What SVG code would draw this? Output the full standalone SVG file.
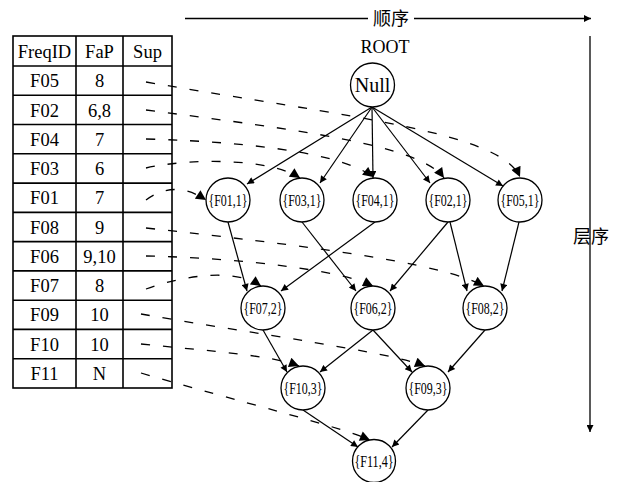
<svg xmlns="http://www.w3.org/2000/svg" width="621" height="482" viewBox="0 0 621 482">
<defs>
<style>
.t{font-family:"Liberation Serif","Noto Sans CJK SC",serif;fill:#000;text-anchor:middle}
.tb{font-size:18.5px}
.nd circle{fill:#fff;stroke:#000;stroke-width:1.3}
.nl{font-size:17.5px}
.e{fill:none;stroke:#000;stroke-width:1.2;marker-end:url(#a)}
.d{fill:none;stroke:#000;stroke-width:1.3;stroke-dasharray:9 13;marker-end:url(#da)}
.grid{fill:none;stroke:#000;stroke-width:1.6}
.ax{fill:none;stroke:#000;stroke-width:1.3}
</style>
<marker id="a" viewBox="0 0 10 10" refX="10" refY="5" markerWidth="9" markerHeight="7" markerUnits="userSpaceOnUse" orient="auto">
<path d="M0,0 L10,5 L0,10 z" fill="#000" stroke="none"/>
</marker>
<marker id="da" viewBox="0 0 10 10" refX="10" refY="5" markerWidth="11" markerHeight="10" markerUnits="userSpaceOnUse" orient="auto">
<path d="M0,0 L10,5 L0,10 z" fill="#000" stroke="none"/>
</marker>
<marker id="ax" viewBox="0 0 10 10" refX="10" refY="5" markerWidth="10" markerHeight="7" markerUnits="userSpaceOnUse" orient="auto">
<path d="M0,0 L10,5 L0,10 z" fill="#000" stroke="none"/>
</marker>
</defs>
<rect width="621" height="482" fill="#fff"/>

<g id="axes">
<line class="ax" x1="185" y1="18.5" x2="368" y2="18.5"/>
<line class="ax" x1="414" y1="18.5" x2="591" y2="18.5" marker-end="url(#ax)"/>
<text class="t" x="391" y="25" font-size="18">顺序</text>
<line class="ax" x1="590" y1="36" x2="590" y2="432" marker-end="url(#ax)"/>
<text class="t" x="591" y="243" font-size="18">层序</text>
<text class="t" x="385" y="53" font-size="18">ROOT</text>
</g>

<g id="table">
<rect class="grid" x="13" y="36" width="159" height="352"/>
<line class="grid" x1="76" y1="36" x2="76" y2="388"/>
<line class="grid" x1="123" y1="36" x2="123" y2="388"/>
<line class="grid" x1="13" y1="66" x2="172" y2="66"/>
<line class="grid" x1="13" y1="95.3" x2="172" y2="95.3"/>
<line class="grid" x1="13" y1="124.5" x2="172" y2="124.5"/>
<line class="grid" x1="13" y1="153.8" x2="172" y2="153.8"/>
<line class="grid" x1="13" y1="183.1" x2="172" y2="183.1"/>
<line class="grid" x1="13" y1="212.4" x2="172" y2="212.4"/>
<line class="grid" x1="13" y1="241.6" x2="172" y2="241.6"/>
<line class="grid" x1="13" y1="270.9" x2="172" y2="270.9"/>
<line class="grid" x1="13" y1="300.2" x2="172" y2="300.2"/>
<line class="grid" x1="13" y1="329.4" x2="172" y2="329.4"/>
<line class="grid" x1="13" y1="358.7" x2="172" y2="358.7"/>
<g class="t tb">
<text x="44.5" y="57.5">FreqID</text><text x="99.5" y="57.5">FaP</text><text x="147.5" y="57.5">Sup</text>
<text x="44.5" y="87">F05</text><text x="99.5" y="87">8</text>
<text x="44.5" y="116.5">F02</text><text x="99.5" y="116.5">6,8</text>
<text x="44.5" y="145.5">F04</text><text x="99.5" y="145.5">7</text>
<text x="44.5" y="175">F03</text><text x="99.5" y="175">6</text>
<text x="44.5" y="204">F01</text><text x="99.5" y="204">7</text>
<text x="44.5" y="233.5">F08</text><text x="99.5" y="233.5">9</text>
<text x="44.5" y="262.5">F06</text><text x="99.5" y="262.5">9,10</text>
<text x="44.5" y="292">F07</text><text x="99.5" y="292">8</text>
<text x="44.5" y="321">F09</text><text x="99.5" y="321">10</text>
<text x="44.5" y="350.5">F10</text><text x="99.5" y="350.5">10</text>
<text x="44.5" y="380">F11</text><text x="99.5" y="380">N</text>
</g>
</g>

<g id="connectors">
<path class="e" d="M372,107 L247,184"/>
<path class="e" d="M372,107 L320,183"/>
<path class="e" d="M372,107 L373,178"/>
<path class="e" d="M372,107 L430,183"/>
<path class="e" d="M372,107 L503,186"/>
<path class="e" d="M228,222 L247,291"/>
<path class="e" d="M375,222 L281,291"/>
<path class="e" d="M302,222 L356,291"/>
<path class="e" d="M448,222 L390,291"/>
<path class="e" d="M450,222 L467,291"/>
<path class="e" d="M519,222 L502,291"/>
<path class="e" d="M263,330 L287,372"/>
<path class="e" d="M373,330 L320,372"/>
<path class="e" d="M373,330 L412,372"/>
<path class="e" d="M485,330 L448,372"/>
<path class="e" d="M303,410 L358,447"/>
<path class="e" d="M428,410 L392,447"/>
<path class="d" d="M146,82 C350,117 500,132 520,177"/>
<path class="d" d="M146,110 C300,130 420,145 444,178"/>
<path class="d" d="M146,139 C260,142 345,155 373,177"/>
<path class="d" d="M146,168 C190,158 270,158 300,178"/>
<path class="d" d="M146,200 C165,186 185,186 206,200"/>
<path class="d" d="M146,228 C300,245 440,262 484,286"/>
<path class="d" d="M146,256 C240,258 340,270 373,286"/>
<path class="d" d="M146,289 C185,275 235,268 261,286"/>
<path class="d" d="M141,314 C250,333 390,352 425,366"/>
<path class="d" d="M141,344 C210,351 270,355 299,366"/>
<path class="d" d="M141,373 C240,402 335,425 370,440"/>
</g>

<g id="n-null" class="nd"><circle cx="372.5" cy="85" r="22"/><text class="t" x="372.5" y="92" font-size="20">Null</text></g>
<g id="n-f01" class="nd"><circle cx="228" cy="200" r="22"/><text class="t nl" x="228" y="206" textLength="39" lengthAdjust="spacingAndGlyphs">{F01,1}</text></g>
<g id="n-f03" class="nd"><circle cx="302" cy="200" r="22"/><text class="t nl" x="302" y="206" textLength="39" lengthAdjust="spacingAndGlyphs">{F03,1}</text></g>
<g id="n-f04" class="nd"><circle cx="375" cy="200" r="22"/><text class="t nl" x="375" y="206" textLength="39" lengthAdjust="spacingAndGlyphs">{F04,1}</text></g>
<g id="n-f02" class="nd"><circle cx="448" cy="200" r="22"/><text class="t nl" x="448" y="206" textLength="39" lengthAdjust="spacingAndGlyphs">{F02,1}</text></g>
<g id="n-f05" class="nd"><circle cx="520" cy="200" r="22"/><text class="t nl" x="520" y="206" textLength="39" lengthAdjust="spacingAndGlyphs">{F05,1}</text></g>
<g id="n-f07" class="nd"><circle cx="263" cy="308" r="22"/><text class="t nl" x="263" y="314" textLength="39" lengthAdjust="spacingAndGlyphs">{F07,2}</text></g>
<g id="n-f06" class="nd"><circle cx="373" cy="308" r="22"/><text class="t nl" x="373" y="314" textLength="39" lengthAdjust="spacingAndGlyphs">{F06,2}</text></g>
<g id="n-f08" class="nd"><circle cx="485" cy="308" r="22"/><text class="t nl" x="485" y="314" textLength="39" lengthAdjust="spacingAndGlyphs">{F08,2}</text></g>
<g id="n-f10" class="nd"><circle cx="303" cy="388" r="22"/><text class="t nl" x="303" y="394" textLength="39" lengthAdjust="spacingAndGlyphs">{F10,3}</text></g>
<g id="n-f09" class="nd"><circle cx="428" cy="388" r="22"/><text class="t nl" x="428" y="394" textLength="39" lengthAdjust="spacingAndGlyphs">{F09,3}</text></g>
<g id="n-f11" class="nd"><circle cx="374" cy="461" r="21.5"/><text class="t nl" x="374" y="467" textLength="39" lengthAdjust="spacingAndGlyphs">{F11,4}</text></g>
</svg>
